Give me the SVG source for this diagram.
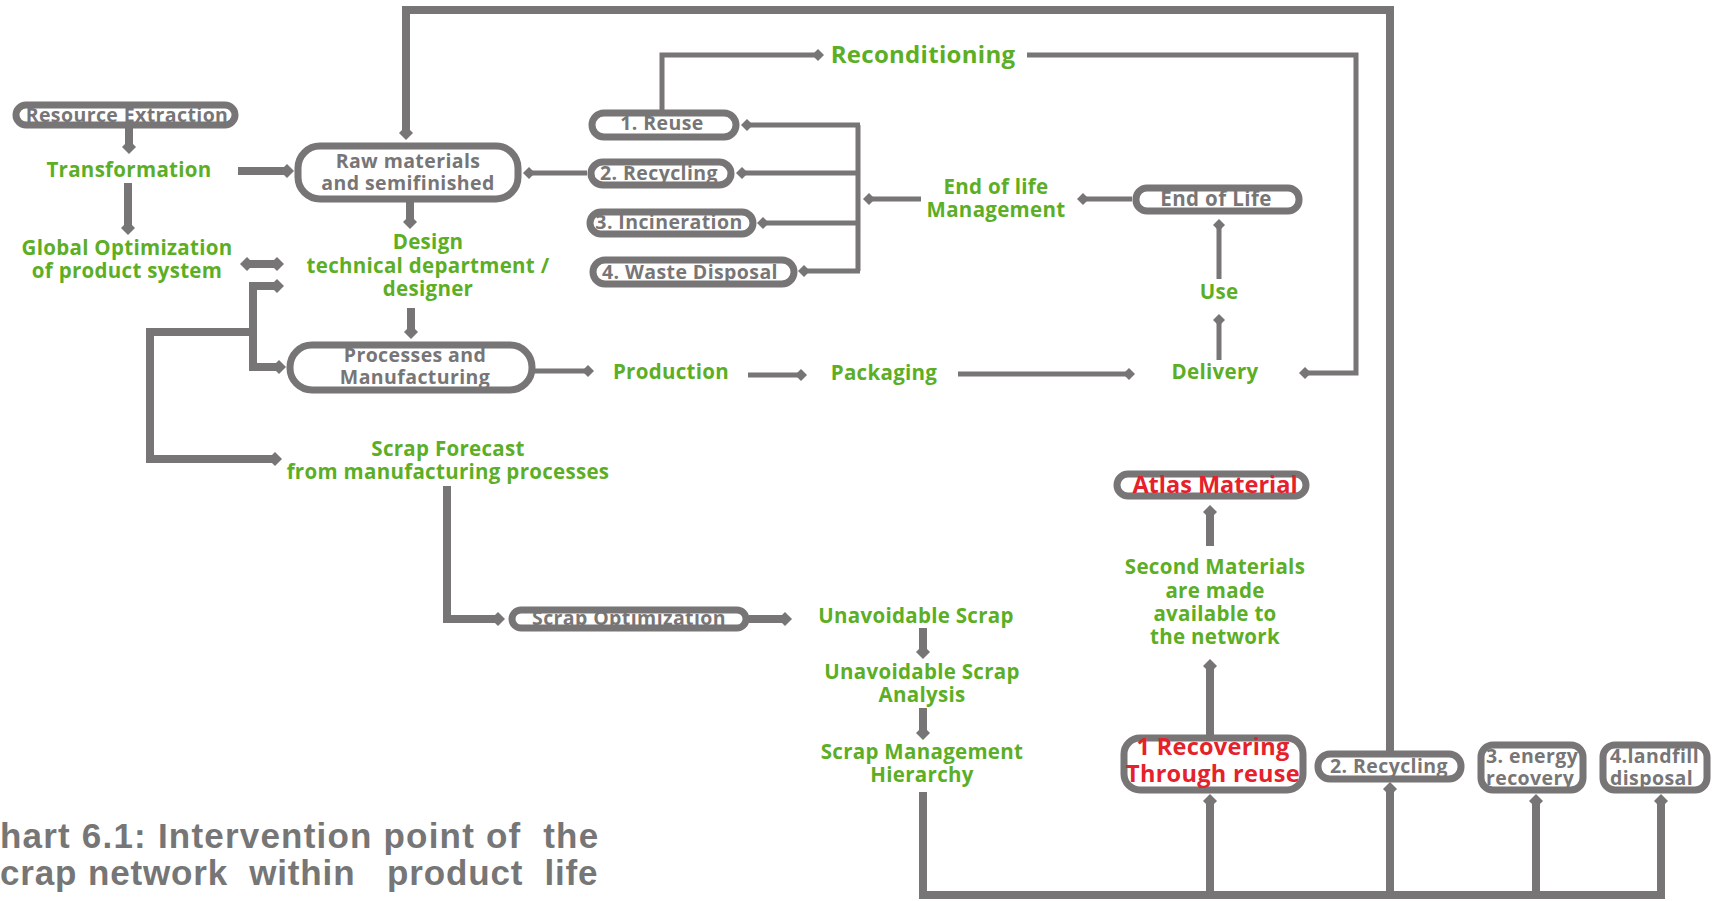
<svg xmlns="http://www.w3.org/2000/svg" width="1713" height="901" viewBox="0 0 1713 901">
  <style>
    .box { fill: #fff; stroke: #777576; stroke-width: 7; }
    .lbl { font-family: "Open Sans", "Noto Sans", sans-serif; font-weight: 700; fill: #777576; text-anchor: middle; font-size: 19.5px; letter-spacing: 0.4px; }
    .lbl-l { font-family: "Open Sans", "Noto Sans", sans-serif; font-weight: 700; fill: #777576; text-anchor: start; font-size: 19.5px; letter-spacing: 0.4px; }
    .grn { font-family: "Open Sans", "Noto Sans", sans-serif; font-weight: 700; fill: #5cae25; text-anchor: middle; font-size: 20.5px; letter-spacing: 0.3px; }
    .grn.big { font-size: 24px; letter-spacing: 0.3px; }
    .lbl.wide { font-size: 20.5px; }
    .red { font-family: "Open Sans", "Noto Sans", sans-serif; font-weight: 700; fill: #e5212b; text-anchor: middle; }
    .thick { fill: none; stroke: #777576; stroke-width: 8; }
    .thin { fill: none; stroke: #777576; stroke-width: 5; }
    .cap { font-family: "Liberation Sans", Arial, sans-serif; font-weight: bold; fill: #767676; font-size: 35px; white-space: pre; }
  </style>
  <defs>
    <marker id="dia" markerUnits="userSpaceOnUse" markerWidth="18" markerHeight="18" viewBox="-9 -9 18 18" refX="0" refY="0" orient="auto-start-reverse">
      <path d="M-7,0 L0,-7 L7,0 L0,7 Z" fill="#777576"/>
    </marker>
    <marker id="dia-s" markerUnits="userSpaceOnUse" markerWidth="16" markerHeight="16" viewBox="-8 -8 16 16" refX="0" refY="0" orient="auto-start-reverse">
      <path d="M-6,0 L0,-6 L6,0 L0,6 Z" fill="#777576"/>
    </marker>
  </defs>

  <rect width="1713" height="901" fill="#fff"/>

  <!-- connectors -->
  <g id="connectors">
    <!-- product life cycle, upper part -->
    <path class="thick" d="M129,128 V147" marker-end="url(#dia)"/>
    <path class="thick" d="M238,171 H287" marker-end="url(#dia)"/>
    <path class="thick" d="M128,183 V228" marker-end="url(#dia)"/>
    <path class="thick" d="M247,264 H277" marker-start="url(#dia)" marker-end="url(#dia)"/>
    <path class="thick" d="M410,202 V222" marker-end="url(#dia)"/>
    <path class="thick" d="M411,308 V332" marker-end="url(#dia)"/>
    <path class="thick" d="M253,286 H277" marker-end="url(#dia)"/>
    <path class="thick" d="M253,282 V367 H279" marker-end="url(#dia)"/>
    <path class="thick" d="M253,332 H150 V459 H275" marker-end="url(#dia)"/>

    <!-- production chain -->
    <path class="thin" d="M535,371 H588" stroke-width="6" marker-end="url(#dia-s)"/>
    <path class="thin" d="M748,375 H801" stroke-width="6" marker-end="url(#dia-s)"/>
    <path class="thin" d="M958,374 H1129" stroke-width="6" marker-end="url(#dia-s)"/>
    <path class="thin" d="M1219,360 V320" marker-end="url(#dia-s)"/>
    <path class="thin" d="M1219,279 V225" marker-end="url(#dia-s)"/>

    <!-- end of life management -->
    <path class="thin" d="M1132,199 H1083" marker-end="url(#dia-s)"/>
    <path class="thin" d="M921,199 H869" marker-end="url(#dia-s)"/>
    <path class="thin" d="M858,125 V271"/>
    <path class="thin" d="M860,125 H747" marker-end="url(#dia-s)"/>
    <path class="thin" d="M860,173 H742" marker-end="url(#dia-s)"/>
    <path class="thin" d="M860,223 H763" marker-end="url(#dia-s)"/>
    <path class="thin" d="M860,271 H804" marker-end="url(#dia-s)"/>
    <path class="thin" d="M587,173 H529" marker-end="url(#dia-s)"/>
    <path class="thin" d="M662,111 V55 H818" marker-end="url(#dia-s)"/>
    <path class="thin" d="M1027,55 H1356 V373 H1305" marker-end="url(#dia-s)"/>

    <!-- outer loop back to raw materials -->
    <path class="thick" d="M1390,752 V10 H406 V133" marker-end="url(#dia)"/>

    <!-- scrap network -->
    <path class="thick" d="M447,486 V619 H498" marker-end="url(#dia)"/>
    <path class="thick" d="M749,619 H785" marker-end="url(#dia)"/>
    <path class="thick" d="M923,628 V652" marker-end="url(#dia)"/>
    <path class="thick" d="M923,708 V733" marker-end="url(#dia)"/>
    <path class="thick" d="M923,792 V895 H1661"/>
    <path class="thick" d="M1210,895 V801" marker-end="url(#dia)"/>
    <path class="thick" d="M1390,895 V789" marker-end="url(#dia)"/>
    <path class="thick" d="M1536,895 V801" marker-end="url(#dia)"/>
    <path class="thick" d="M1661,899 V801" marker-end="url(#dia)"/>
    <path class="thick" d="M1210,736 V666" marker-end="url(#dia)"/>
    <path class="thick" d="M1210,546 V512" marker-end="url(#dia)"/>
  </g>

  <!-- nodes -->
  <g id="resource-extraction">
    <rect class="box" x="16" y="105" width="219" height="20" rx="10"/>
    <text class="lbl" x="127" y="122">Resource Extraction</text>
  </g>
  <g id="transformation">
    <text class="grn" x="129" y="177">Transformation</text>
  </g>
  <g id="global-optimization">
    <text class="grn" x="127" y="255">Global Optimization</text>
    <text class="grn" x="127" y="278">of product system</text>
  </g>
  <g id="raw-materials">
    <rect class="box" x="298" y="146" width="220" height="53" rx="22"/>
    <text class="lbl" x="408" y="168">Raw materials</text>
    <text class="lbl" x="408" y="190">and semifinished</text>
  </g>
  <g id="design">
    <text class="grn" x="428" y="249">Design</text>
    <text class="grn" x="428" y="273">technical department /</text>
    <text class="grn" x="428" y="296">designer</text>
  </g>
  <g id="processes">
    <rect class="box" x="290" y="345" width="242" height="45" rx="22"/>
    <text class="lbl" x="415" y="362">Processes and</text>
    <text class="lbl" x="415" y="384">Manufacturing</text>
  </g>
  <g id="production">
    <text class="grn" x="671" y="379">Production</text>
  </g>
  <g id="packaging">
    <text class="grn" x="884" y="380">Packaging</text>
  </g>
  <g id="delivery">
    <text class="grn" x="1215" y="379">Delivery</text>
  </g>
  <g id="use">
    <text class="grn" x="1219" y="299">Use</text>
  </g>
  <g id="end-of-life">
    <rect class="box" x="1136" y="188" width="163" height="23" rx="11"/>
    <text class="lbl wide" x="1216" y="206">End of Life</text>
  </g>
  <g id="end-of-life-management">
    <text class="grn" x="996" y="194">End of life</text>
    <text class="grn" x="996" y="217">Management</text>
  </g>
  <g id="reuse">
    <rect class="box" x="592" y="113" width="144" height="24" rx="12"/>
    <text class="lbl" x="662" y="130">1. Reuse</text>
  </g>
  <g id="recycling">
    <rect class="box" x="591" y="162" width="140" height="23" rx="12"/>
    <text class="lbl" x="659" y="180">2. Recycling</text>
  </g>
  <g id="incineration">
    <rect class="box" x="590" y="212" width="163" height="22" rx="11"/>
    <text class="lbl" x="669" y="229">3. Incineration</text>
  </g>
  <g id="waste-disposal">
    <rect class="box" x="593" y="260" width="201" height="24" rx="12"/>
    <text class="lbl" x="690" y="279">4. Waste Disposal</text>
  </g>
  <g id="reconditioning">
    <text class="grn big" x="923" y="63">Reconditioning</text>
  </g>
  <g id="scrap-forecast">
    <text class="grn" x="448" y="456">Scrap Forecast</text>
    <text class="grn" x="448" y="479">from manufacturing processes</text>
  </g>
  <g id="scrap-optimization">
    <rect class="box" x="512" y="610" width="234" height="18" rx="9"/>
    <text class="lbl" x="629" y="625">Scrap Optimization</text>
  </g>
  <g id="unavoidable-scrap">
    <text class="grn" x="916" y="623">Unavoidable Scrap</text>
  </g>
  <g id="unavoidable-scrap-analysis">
    <text class="grn" x="922" y="679">Unavoidable Scrap</text>
    <text class="grn" x="922" y="702">Analysis</text>
  </g>
  <g id="scrap-management-hierarchy">
    <text class="grn" x="922" y="759">Scrap Management</text>
    <text class="grn" x="922" y="782">Hierarchy</text>
  </g>
  <g id="atlas-material">
    <rect class="box" x="1117" y="474" width="189" height="22" rx="11"/>
    <text class="red" x="1215" y="493" font-size="23.5">Atlas Material</text>
  </g>
  <g id="second-materials">
    <text class="grn" x="1215" y="574">Second Materials</text>
    <text class="grn" x="1215" y="598">are made</text>
    <text class="grn" x="1215" y="621">available to</text>
    <text class="grn" x="1215" y="644">the network</text>
  </g>
  <g id="recovering-reuse">
    <rect class="box" x="1124" y="738" width="179" height="52" rx="16"/>
    <text class="red" x="1213" y="755" font-size="23.5" letter-spacing="0.3">1 Recovering</text>
    <text class="red" x="1213" y="782" font-size="23.5" letter-spacing="0.3">Through reuse</text>
  </g>
  <g id="scrap-recycling">
    <rect class="box" x="1318" y="754" width="143" height="25" rx="12"/>
    <text class="lbl" x="1389" y="773">2. Recycling</text>
  </g>
  <g id="energy-recovery">
    <rect class="box" x="1481" y="745" width="102" height="45" rx="12"/>
    <text class="lbl-l" x="1486" y="763">3. energy</text>
    <text class="lbl-l" x="1486" y="785">recovery</text>
  </g>
  <g id="landfill-disposal">
    <rect class="box" x="1603" y="745" width="104" height="45" rx="12"/>
    <text class="lbl-l" x="1610" y="763">4.landfill</text>
    <text class="lbl-l" x="1610" y="785">disposal</text>
  </g>

  <!-- caption -->
  <g id="caption">
    <text class="cap" x="0" y="848" letter-spacing="1.2">hart 6.1: Intervention point of  the</text>
    <text class="cap" x="0" y="885" letter-spacing="0.85">crap network  within   product  life</text>
  </g>
</svg>
